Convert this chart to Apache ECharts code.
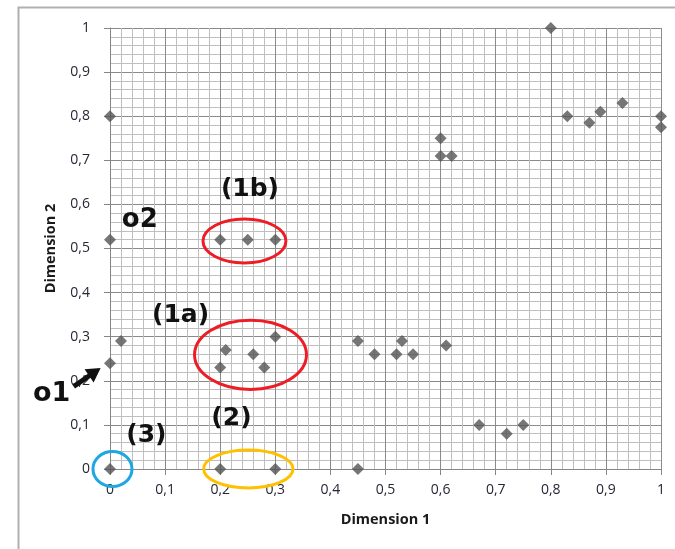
<!DOCTYPE html>
<html>
<head>
<meta charset="utf-8">
<script src="https://cdn.jsdelivr.net/npm/echarts@6/dist/echarts.min.js"></script>
<style>html,body{margin:0;padding:0;background:#fff}#c{width:675px;height:549px}</style>
</head>
<body>
<div id="c"></div>
<script>
// Data
const dim1 = [0, 0, 0.2, 0.25, 0.3, 0.8, 0.83, 0.87, 0.89, 0.93, 1.0, 1.0, 0.6, 0.6, 0.62,
              0, 0.02, 0.21, 0.2, 0.26, 0.28, 0.3, 0, 0.2, 0.3,
              0.45, 0.45, 0.48, 0.52, 0.53, 0.55, 0.61, 0.67, 0.72, 0.75];
const dim2 = [0.8, 0.52, 0.52, 0.52, 0.52, 1.0, 0.8, 0.785, 0.81, 0.83, 0.8, 0.775, 0.75, 0.71, 0.71,
              0.24, 0.29, 0.27, 0.23, 0.26, 0.23, 0.3, 0, 0, 0,
              0.29, 0, 0.26, 0.26, 0.29, 0.26, 0.28, 0.1, 0.08, 0.1];
const xTicks = ['0', '0,1', '0,2', '0,3', '0,4', '0,5', '0,6', '0,7', '0,8', '0,9', '1'];
const yTicks = ['0', '0,1', '0,2', '0,3', '0,4', '0,5', '0,6', '0,7', '0,8', '0,9', '1'];

// Annotations (data coordinates)
const labelTexts = ['(1b)', 'o2', '(1a)', 'o1', '(2)', '(3)'];
const labelX = [0.254, 0.054, 0.128, -0.106, 0.2205, 0.066];
const labelY = [0.633, 0.563, 0.349, 0.170, 0.1135, 0.0755];
const labelSize = [25, 26, 25, 27, 25, 25];
const ellCx = [0.244, 0.255, 0.251, 0.0045];
const ellCy = [0.517, 0.259, 0.0, 0.0];
const ellRx = [0.0753, 0.1016, 0.0811, 0.0354];
const ellRy = [0.0498, 0.0785, 0.043, 0.0396];
const ellColor = ['#ee1c24', '#ee1c24', '#ffc000', '#1ea7e1'];
const arrowFrom = [-0.066, 0.187];
const arrowTo = [-0.017, 0.229];

const points = dim1.map((x, i) => [x, dim2[i]]);
const chart = echarts.init(document.getElementById('c'), null, {renderer: 'canvas'});
const fmt = arr => v => arr[Math.round(v * 10)] ?? '';
const axisCommon = {
  type: 'value', min: 0, max: 1, interval: 0.1,
  axisLine: {show: true, lineStyle: {color: '#868686', width: 1}},
  axisTick: {show: true, length: 6, lineStyle: {color: '#868686'}},
  splitLine: {show: true, lineStyle: {color: '#8a8a8a', width: 1}},
  minorTick: {show: false, splitNumber: 5},
  minorSplitLine: {show: true, lineStyle: {color: '#bfbfbf', width: 1}},
  nameLocation: 'middle',
  nameTextStyle: {fontFamily: 'Open Sans', fontWeight: 'bold', fontSize: 14.5, color: '#1a1a1a'}
};
chart.setOption({
  animation: false,
  backgroundColor: '#fff',
  grid: {left: 110, top: 28, right: 14, bottom: 80},
  xAxis: Object.assign({}, axisCommon, {
    name: 'Dimension 1', nameGap: 43,
    axisLabel: {formatter: fmt(xTicks), margin: 14, fontFamily: 'Open Sans', fontSize: 14, color: '#262636'}
  }),
  yAxis: Object.assign({}, axisCommon, {
    name: 'Dimension 2', nameGap: 52,
    axisLabel: {formatter: fmt(yTicks), margin: 20, fontFamily: 'Open Sans', fontSize: 14, color: '#262636'}
  }),
  series: [{
    type: 'scatter', data: points, symbol: 'diamond', symbolSize: 12,
    itemStyle: {color: '#545454'}, z: 5
  }]
});

function drawAnnotations() {
  const g = [];
  g.push({type: 'rect', shape: {x: 18.5, y: 7.5, width: 720, height: 600},
          style: {fill: 'none', stroke: '#b0b0b0', lineWidth: 2}, z: -10, silent: true});
  for (let i = 0; i < ellCx.length; i++) {
    const c = chart.convertToPixel({gridIndex: 0}, [ellCx[i], ellCy[i]]);
    const e = chart.convertToPixel({gridIndex: 0}, [ellCx[i] + ellRx[i], ellCy[i] + ellRy[i]]);
    g.push({type: 'ellipse', shape: {cx: c[0], cy: c[1], rx: Math.abs(e[0] - c[0]), ry: Math.abs(e[1] - c[1])},
            style: {fill: 'none', stroke: ellColor[i], lineWidth: 3}, z: 10, silent: true});
  }
  for (let i = 0; i < labelTexts.length; i++) {
    const p = chart.convertToPixel({gridIndex: 0}, [labelX[i], labelY[i]]);
    g.push({type: 'text', x: p[0], y: p[1], z: 11, silent: true,
            style: {text: labelTexts[i], fontFamily: 'DejaVu Sans', fontWeight: 'bold', fontSize: labelSize[i],
                    fill: '#111', align: 'center', verticalAlign: 'middle'}});
  }
  const a = chart.convertToPixel({gridIndex: 0}, arrowFrom);
  const b = chart.convertToPixel({gridIndex: 0}, arrowTo);
  const ang = Math.atan2(b[1] - a[1], b[0] - a[0]);
  const hl = 14, hw = 8;
  const bx = b[0] - hl * Math.cos(ang), by = b[1] - hl * Math.sin(ang);
  g.push({type: 'line', shape: {x1: a[0], y1: a[1], x2: bx + 2 * Math.cos(ang), y2: by + 2 * Math.sin(ang)},
          style: {stroke: '#111', lineWidth: 5}, z: 11, silent: true});
  g.push({type: 'polygon', shape: {points: [
      [b[0], b[1]],
      [bx + hw * Math.sin(ang), by - hw * Math.cos(ang)],
      [bx - hw * Math.sin(ang), by + hw * Math.cos(ang)]]},
          style: {fill: '#111'}, z: 11, silent: true});
  chart.setOption({graphic: g});
}
drawAnnotations();
</script>
</body>
</html>
